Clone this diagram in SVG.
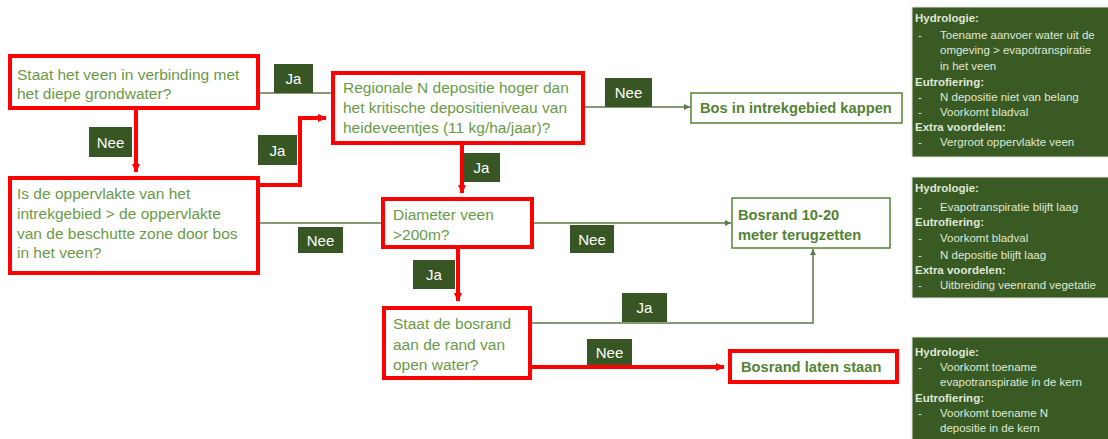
<svg xmlns="http://www.w3.org/2000/svg" width="1108" height="439" viewBox="0 0 1108 439">
<style>
.q{fill:#fff;stroke:#ff0000;stroke-width:4}
.r{fill:#fff;stroke:#548235;stroke-width:1.5}
.t{font-family:"Liberation Sans",Arial,sans-serif;font-size:15.5px;fill:#6a9a48}
.tb{font-family:"Liberation Sans",Arial,sans-serif;font-size:14.7px;font-weight:bold;fill:#548235}
.lab{fill:#375623}
.lt{font-family:"Liberation Sans",Arial,sans-serif;font-size:15px;fill:#fff;text-anchor:middle}
.ln{fill:none;stroke:#5c7a48;stroke-width:1.5}
.rl{fill:none;stroke:#ff0000;stroke-width:4}
.gb{fill:#3a5a23;stroke:#e0e6d8;stroke-width:1}
.s{font-family:"Liberation Sans",Arial,sans-serif;font-size:11.5px;fill:#dfe8d6}
.sh{font-family:"Liberation Sans",Arial,sans-serif;font-size:11.5px;font-weight:bold;fill:#dfe8d6}
</style>
<defs>
<marker id="ar" markerWidth="10" markerHeight="10" refX="8" refY="5" orient="auto" markerUnits="userSpaceOnUse"><path d="M0,1 L9,5 L0,9 z" fill="#ff0000"/></marker>
<marker id="ag" markerWidth="8" markerHeight="8" refX="6" refY="4" orient="auto" markerUnits="userSpaceOnUse"><path d="M0,1 L6,4 L0,7 z" fill="#5c7a48"/></marker>
</defs>
<g id="connectors">
<path class="ln" d="M258,93 H333"/>
<path class="rl" d="M258,185 H300 V118 H326" marker-end="url(#ar)"/>
<path class="rl" d="M136,108 V172" marker-end="url(#ar)"/>
<path class="ln" d="M258,223 H383"/>
<path class="ln" d="M583,107 H690" marker-end="url(#ag)"/>
<path class="rl" d="M462,143 V193" marker-end="url(#ar)"/>
<path class="ln" d="M532,223 H731" marker-end="url(#ag)"/>
<path class="rl" d="M458,247 V301" marker-end="url(#ar)"/>
<path class="ln" d="M530,323 H813 V249" marker-end="url(#ag)"/>
<path class="rl" d="M530,367 H724" marker-end="url(#ar)"/>
<rect class="lab" x="274" y="64" width="39" height="29"/><text class="lt" x="293.5" y="84">Ja</text>
<rect class="lab" x="89" y="127" width="43" height="30"/><text class="lt" x="110.5" y="148">Nee</text>
<rect class="lab" x="258" y="135" width="39" height="30"/><text class="lt" x="277.5" y="156">Ja</text>
<rect class="lab" x="298" y="227" width="45" height="26"/><text class="lt" x="320.5" y="246">Nee</text>
<rect class="lab" x="605" y="78" width="47" height="29"/><text class="lt" x="628.5" y="98">Nee</text>
<rect class="lab" x="463" y="153" width="37" height="29"/><text class="lt" x="481.5" y="173">Ja</text>
<rect class="lab" x="570" y="225" width="44" height="28"/><text class="lt" x="592" y="245">Nee</text>
<rect class="lab" x="413" y="260" width="42" height="29"/><text class="lt" x="434" y="280">Ja</text>
<rect class="lab" x="622" y="293" width="45" height="29"/><text class="lt" x="644.5" y="313">Ja</text>
<rect class="lab" x="587" y="339" width="45" height="26"/><text class="lt" x="609.5" y="358">Nee</text>
</g>
<g id="n1"><rect class="q" x="10" y="56" width="248" height="52"/>
<text class="t" x="17" y="80">Staat het veen in verbinding met</text>
<text class="t" x="17" y="99">het diepe grondwater?</text></g>
<g id="n2"><rect class="q" x="10" y="178" width="248" height="95"/>
<text class="t" x="17" y="199">Is de oppervlakte van het</text>
<text class="t" x="17" y="219">intrekgebied &gt; de oppervlakte</text>
<text class="t" x="17" y="239">van de beschutte zone door bos</text>
<text class="t" x="17" y="258">in het veen?</text></g>
<g id="n3"><rect class="q" x="333" y="73" width="250" height="70"/>
<text class="t" x="343" y="93">Regionale N depositie hoger dan</text>
<text class="t" x="343" y="113">het kritische depositieniveau van</text>
<text class="t" x="343" y="133">heideveentjes (11 kg/ha/jaar)?</text></g>
<g id="n4"><rect class="r" x="691" y="93" width="211" height="30"/>
<text class="tb" x="700" y="113">Bos in intrekgebied kappen</text></g>
<g id="n5"><rect class="q" x="383" y="199" width="149" height="48"/>
<text class="t" x="393" y="220">Diameter veen</text>
<text class="t" x="393" y="240">&gt;200m?</text></g>
<g id="n6"><rect class="r" x="732" y="198" width="158" height="50"/>
<text class="tb" x="738" y="220">Bosrand 10-20</text>
<text class="tb" x="738" y="240">meter terugzetten</text></g>
<g id="n7"><rect class="q" x="384" y="308" width="146" height="70"/>
<text class="t" x="393" y="329">Staat de bosrand</text>
<text class="t" x="393" y="350">aan de rand van</text>
<text class="t" x="393" y="370">open water?</text></g>
<g id="n8"><rect class="q" x="730" y="351" width="167" height="31"/>
<text class="tb" x="741" y="372">Bosrand laten staan</text></g>
<g id="g1"><rect class="gb" x="912" y="7" width="200" height="150"/>
<text class="sh" x="915" y="22">Hydrologie:</text>
<text class="s" x="918" y="39">-</text><text class="s" x="940" y="39">Toename aanvoer water uit de</text>
<text class="s" x="940" y="54">omgeving &gt; evapotranspiratie</text>
<text class="s" x="940" y="70">in het veen</text>
<text class="sh" x="915" y="86">Eutrofiering:</text>
<text class="s" x="918" y="101">-</text><text class="s" x="940" y="101">N depositie niet van belang</text>
<text class="s" x="918" y="116">-</text><text class="s" x="940" y="116">Voorkomt bladval</text>
<text class="sh" x="915" y="131">Extra voordelen:</text>
<text class="s" x="918" y="146">-</text><text class="s" x="940" y="146">Vergroot oppervlakte veen</text></g>
<g id="g2"><rect class="gb" x="912" y="177" width="200" height="121"/>
<text class="sh" x="915" y="192">Hydrologie:</text>
<text class="s" x="918" y="211">-</text><text class="s" x="940" y="211">Evapotranspiratie blijft laag</text>
<text class="sh" x="915" y="226">Eutrofiering:</text>
<text class="s" x="918" y="242">-</text><text class="s" x="940" y="242">Voorkomt bladval</text>
<text class="s" x="918" y="259">-</text><text class="s" x="940" y="259">N depositie blijft laag</text>
<text class="sh" x="915" y="274">Extra voordelen:</text>
<text class="s" x="918" y="289">-</text><text class="s" x="940" y="289">Uitbreiding veenrand vegetatie</text></g>
<g id="g3"><rect class="gb" x="912" y="337" width="200" height="110"/>
<text class="sh" x="915" y="356">Hydrologie:</text>
<text class="s" x="918" y="371">-</text><text class="s" x="940" y="371">Voorkomt toename</text>
<text class="s" x="940" y="386">evapotranspiratie in de kern</text>
<text class="sh" x="915" y="402">Eutrofiering:</text>
<text class="s" x="918" y="417">-</text><text class="s" x="940" y="417">Voorkomt toename N</text>
<text class="s" x="940" y="432">depositie in de kern</text></g>
</svg>
